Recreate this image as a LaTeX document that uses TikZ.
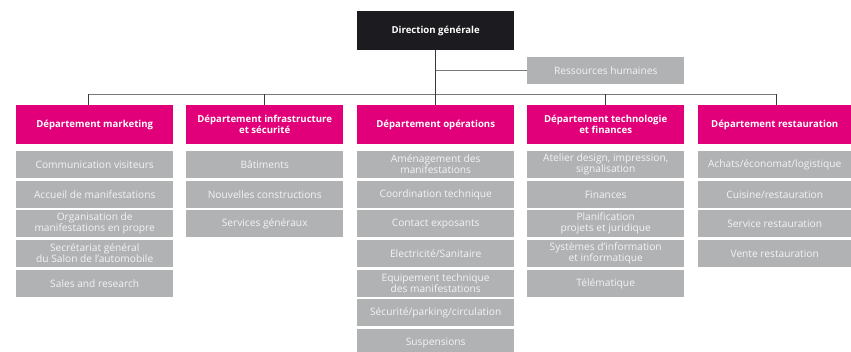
\documentclass[tikz,border=0pt]{standalone}
\usepackage{fontspec}
\setmainfont{Open Sans}
\definecolor{mag}{HTML}{E2007A}
\definecolor{gr}{HTML}{B1B2B4}
\definecolor{blk}{HTML}{1C1B1F}
\definecolor{ln}{HTML}{7A7A7A}
\definecolor{lnd}{HTML}{3A3A3A}
\definecolor{txt}{HTML}{F4F4F4}
\begin{document}
\begin{tikzpicture}[x=1pt,y=-1pt,
  box/.style={anchor=north west,inner sep=0pt,align=center,minimum width=157pt},
  hdr/.style={box,text=white,fill=mag,minimum height=39pt,font=\bfseries\fontsize{9.6}{11}\selectfont},
  top/.style={box,text=white,fill=blk,minimum height=39pt,font=\bfseries\fontsize{9.6}{11}\selectfont},
  sub/.style={box,text=txt,fill=gr,minimum height=26.7pt,font=\fontsize{10.2}{11}\selectfont},
  bus/.style={draw=ln,line width=1pt},
  drop/.style={draw=lnd,line width=1pt}]
\useasboundingbox (0,0) rectangle (851,351);
\fill[white] (0,0) rectangle (851,351);
% top
\node[top] (dg) at (357,11) {Direction générale};
\node[sub] (rh) at (527,57) {Ressources humaines};
% departments
\node[hdr] (mk) at (16,105) {Département marketing};
\node[hdr] (inf) at (186,105) {Département infrastructure\\et sécurité};
\node[hdr] (op) at (357,105) {Département opérations};
\node[hdr] (tf) at (527,105) {Département technologie\\et finances};
\node[hdr,minimum width=153pt] (rs) at (698,105) {Département restauration};
% connectors
\coordinate (dgb) at (435,50);
\coordinate (rhj) at (435,70.35);
\coordinate (bl) at (88,94);
\coordinate (br) at (776,94);
\coordinate (bmk) at (88,105);
\coordinate (binf) at (264.5,105);
\coordinate (bop) at (435,105);
\coordinate (btf) at (605.5,105);
\coordinate (brs) at (776,105);
\draw[bus] (rhj) -- (rhj -| rh.west);
\draw[bus] (bl) -- (br);
\draw[drop] (dgb) -- (bop);
\draw[drop] (bl) -- (bmk);
\draw[drop] (binf |- bl) -- (binf);
\draw[drop] (btf |- bl) -- (btf);
\draw[drop] (br) -- (brs);
% marketing
\node[sub] (mk1) at (16,151) {Communication visiteurs};
\node[sub] (mk2) at (16,181) {Accueil de manifestations};
\node[sub] (mk3) at (16,210) {Organisation de\\manifestations en propre};
\node[sub] (mk4) at (16,240) {Secrétariat général\\du Salon de l'automobile};
\node[sub] (mk5) at (16,270) {Sales and research};
% infra
\node[sub] (in1) at (186,151) {Bâtiments};
\node[sub] (in2) at (186,181) {Nouvelles constructions};
\node[sub] (in3) at (186,210) {Services généraux};
% operations
\node[sub] (op1) at (357,151) {Aménagement des\\manifestations};
\node[sub] (op2) at (357,181) {Coordination technique};
\node[sub] (op3) at (357,210) {Contact exposants};
\node[sub] (op4) at (357,240) {Electricité/Sanitaire};
\node[sub] (op5) at (357,270) {Equipement technique\\des manifestations};
\node[sub] (op6) at (357,299) {Sécurité/parking/circulation};
\node[sub] (op7) at (357,329) {Suspensions};
% tech
\node[sub] (tf1) at (527,151) {Atelier design, impression,\\signalisation};
\node[sub] (tf2) at (527,181) {Finances};
\node[sub] (tf3) at (527,210) {Planification\\projets et juridique};
\node[sub] (tf4) at (527,240) {Systèmes d'information\\et informatique};
\node[sub] (tf5) at (527,270) {Télématique};
% restauration
\node[sub,minimum width=153pt] (rs1) at (698,151) {Achats/économat/logistique};
\node[sub,minimum width=153pt] (rs2) at (698,181) {Cuisine/restauration};
\node[sub,minimum width=153pt] (rs3) at (698,210) {Service restauration};
\node[sub,minimum width=153pt] (rs4) at (698,240) {Vente restauration};
\end{tikzpicture}
\end{document}
